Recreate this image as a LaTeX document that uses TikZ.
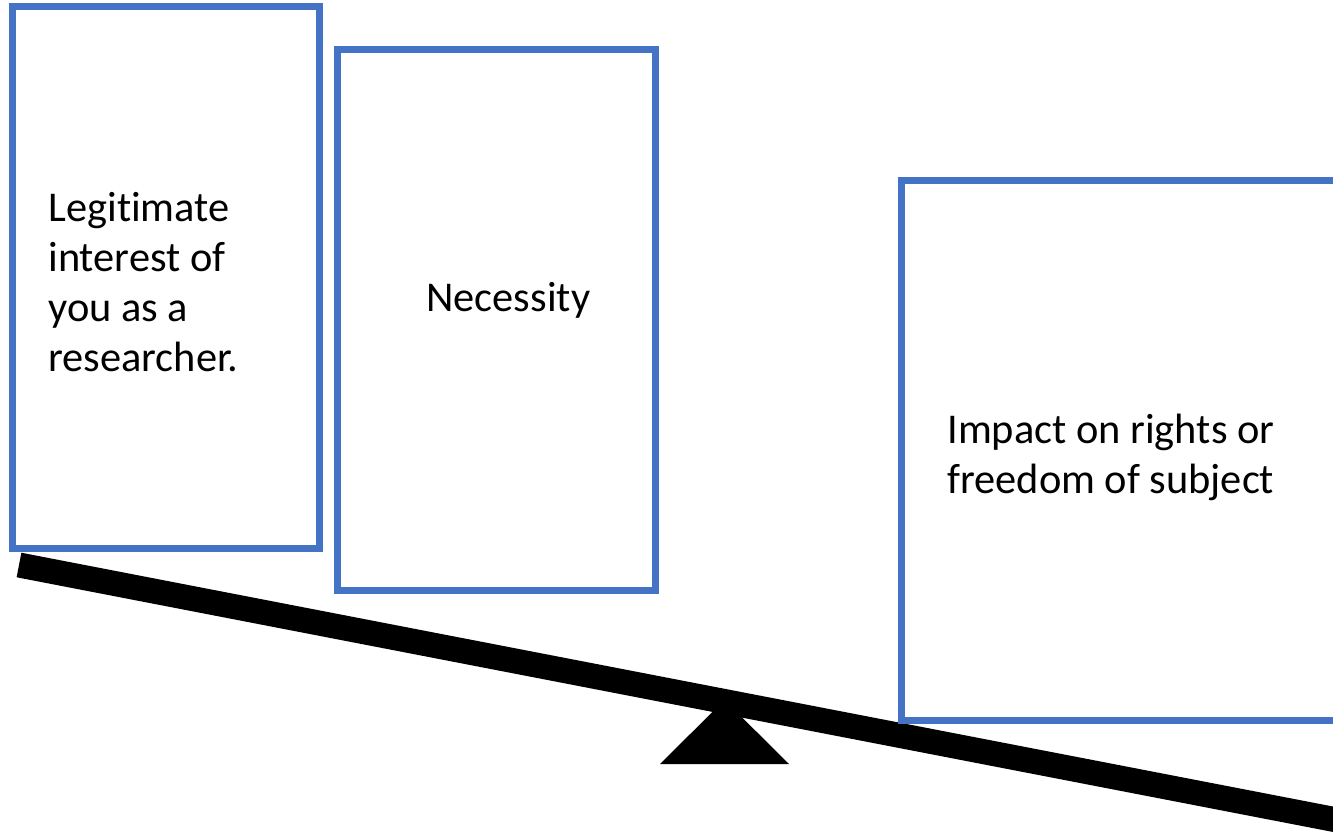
\documentclass[tikz,border=0pt]{standalone}
\usepackage{fontspec}
\setmainfont[Ligatures=NoCommon]{Carlito}
\definecolor{boxblue}{HTML}{4472C4}
\tikzset{panel/.style={draw=boxblue,line width=3.5pt,fill=white,inner sep=0pt},
  words/.style={align=left,inner sep=0pt,anchor=west,font=\fontsize{21.2}{25}\selectfont}}
\begin{document}
\begin{tikzpicture}[x=0.5pt,y=-0.5pt]
\clip (0,0) rectangle (1333,834);
% seesaw
\fill (660,764) -- (724.5,700) -- (789,764) -- cycle;
\draw[line width=12.5pt] (19,565) -- (1400,832.2);
% weights
\node[panel,minimum width=153.5pt,minimum height=270.5pt] (legit) at (165.5,277.5) {};
\node[panel,minimum width=159pt,minimum height=270pt] (need) at (496,320) {};
\node[panel,minimum width=219.5pt,minimum height=269.5pt] (impact) at (1120.5,450.5) {};
\node[words] (legittext) at (48,282) {Legitimate\\interest of\\you as a\\researcher.};
\node[words] (needtext) at (426,300) {Necessity};
\node[words] (impacttext) at (947,457) {Impact on rights or\\freedom of subject};
\end{tikzpicture}
\end{document}
